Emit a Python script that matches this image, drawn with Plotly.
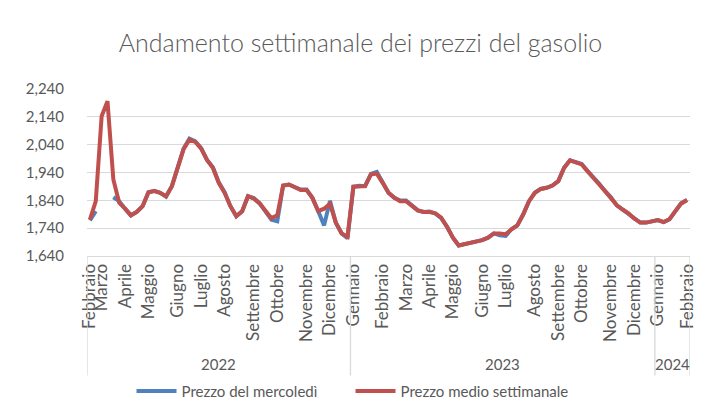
import pandas as pd
import plotly.graph_objects as go

titolo = "Andamento settimanale dei prezzi del gasolio"
prima_settimana = "2022-02-21"
mesi = ["Gennaio", "Febbraio", "Marzo", "Aprile", "Maggio", "Giugno", "Luglio",
        "Agosto", "Settembre", "Ottobre", "Novembre", "Dicembre"]
nome_mercoledi = "Prezzo del mercoledì"
nome_medio = "Prezzo medio settimanale"

prezzo_medio = [
    1771, 1837, 2142, 2196, 1915, 1831, 1810, 1786, 1798, 1819,
    1869, 1873, 1867, 1855, 1891, 1957, 2024, 2058, 2050, 2026,
    1985, 1957, 1903, 1867, 1819, 1783, 1801, 1855, 1846, 1829,
    1801, 1776, 1786, 1893, 1897, 1885, 1877, 1877, 1849, 1801,
    1810, 1828, 1760, 1721, 1709, 1889, 1891, 1891, 1933, 1936,
    1903, 1867, 1849, 1837, 1837, 1822, 1804, 1798, 1798, 1793,
    1778, 1745, 1706, 1678, 1682, 1688, 1691, 1697, 1706, 1721,
    1721, 1718, 1736, 1750, 1789, 1837, 1867, 1881, 1885, 1893,
    1909, 1957, 1984, 1977, 1969, 1945, 1923, 1897, 1873, 1849,
    1822, 1807, 1793, 1774, 1760, 1760, 1765, 1769, 1762, 1772,
    1801, 1829, 1841,
]

prezzo_mercoledi = [
    1768, 1801, None, None, 1851, 1837, 1810, 1786, 1798, 1819,
    1869, 1874, 1867, 1853, 1891, 1957, 2026, 2062, 2052, 2028,
    1985, 1959, 1905, 1869, 1819, 1783, 1801, 1855, 1848, 1829,
    1801, 1770, 1765, 1893, 1897, 1887, 1879, 1879, 1849, 1801,
    1750, 1838, 1760, 1721, 1704, 1889, 1892, 1891, 1935, 1942,
    1903, 1867, 1849, 1839, 1839, 1822, 1804, 1798, 1800, 1793,
    1776, 1745, 1706, 1678, 1682, 1688, 1691, 1697, 1706, 1721,
    1714, 1712, 1736, 1750, 1789, 1837, 1867, 1881, 1885, 1893,
    1909, 1957, 1984, 1979, 1971, 1945, 1923, 1899, 1873, 1851,
    1822, 1807, 1793, 1774, 1760, 1760, 1765, 1769, 1762, 1772,
    1801, 1829, 1841,
]

settimane = pd.date_range(prima_settimana, periods=len(prezzo_medio), freq="W-MON")
indice = list(range(len(settimane)))

# month labels on the first week of every month
tickvals, ticktext = [], []
prev = None
for i, d in enumerate(settimane):
    if (d.year, d.month) != prev:
        tickvals.append(i)
        ticktext.append(mesi[d.month - 1])
        prev = (d.year, d.month)

# year groups
anni = {}
for i, d in enumerate(settimane):
    anni.setdefault(d.year, []).append(i)

GRAY = "#595959"
LINE = "#d9d9d9"
FONT = "Lato"

fig = go.Figure()
fig.add_trace(go.Scatter(x=indice, y=prezzo_mercoledi, mode="lines", name=nome_mercoledi,
                         line=dict(color="#4F81BD", width=4), connectgaps=False))
fig.add_trace(go.Scatter(x=indice, y=prezzo_medio, mode="lines", name=nome_medio,
                         line=dict(color="#C0504D", width=4)))

shapes = []
annotations = []
bottom = -0.715
bounds = set()
for anno, idxs in anni.items():
    bounds.add(idxs[0] - 0.5)
    bounds.add(idxs[-1] + 0.5)
    annotations.append(dict(x=(idxs[0] + idxs[-1]) / 2, y=-0.648, xref="x", yref="paper",
                            text=str(anno), showarrow=False, yanchor="middle",
                            font=dict(size=15, color=GRAY, family=FONT)))
for b in sorted(bounds):
    shapes.append(dict(type="line", xref="x", yref="paper", x0=b, x1=b, y0=0, y1=bottom,
                       line=dict(color=LINE, width=1.3)))

fig.update_layout(
    width=705, height=413,
    margin=dict(l=79, r=23, t=81, b=165, autoexpand=False),
    paper_bgcolor="white", plot_bgcolor="white",
    font=dict(family=FONT, color=GRAY, size=15),
    title=dict(text=titolo, x=0.5, xanchor="center", y=1 - 35 / 413, yref="container",
               yanchor="middle", font=dict(size=25, color=GRAY, family=FONT, weight=300)),
    showlegend=True,
    legend=dict(orientation="h", x=0.437, xanchor="center",
                y=-0.81, yanchor="middle", entrywidth=164, entrywidthmode="pixels",
                font=dict(size=15, color=GRAY, family=FONT), bgcolor="rgba(0,0,0,0)",
                itemwidth=40),
    shapes=shapes,
    annotations=annotations,
)
fig.update_xaxes(range=[-0.5, len(indice) - 0.5], tickmode="array", tickvals=tickvals,
                 ticktext=ticktext, tickangle=-90, showgrid=False, zeroline=False,
                 showline=True, linecolor=LINE, linewidth=1.3, ticks="",
                 ticklabelstandoff=0, tickfont=dict(size=17, color=GRAY, family=FONT))
fig.update_yaxes(range=[1640, 2240], dtick=100, tick0=1640, tickformat=",d",
                 showgrid=True, gridcolor=LINE, gridwidth=1.3, zeroline=False,
                 showline=False, ticks="", ticklabelstandoff=22,
                 tickfont=dict(size=15, color=GRAY, family=FONT))

fig.write_html("out.html")
